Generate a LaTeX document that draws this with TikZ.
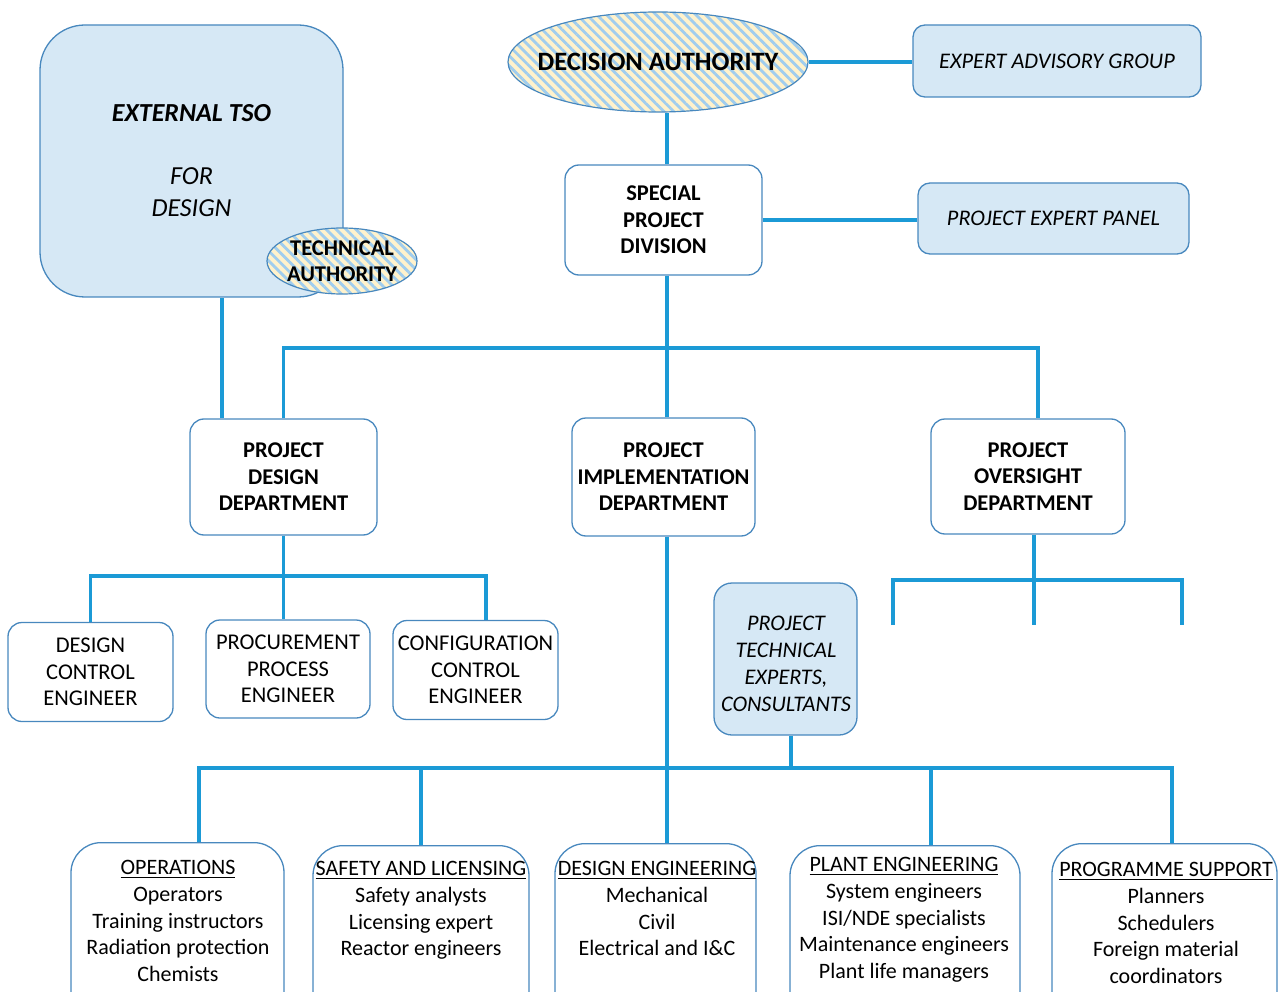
\documentclass[tikz,border=0pt]{standalone}
\usepackage{fontspec}
\setmainfont{Carlito}
\usetikzlibrary{patterns.meta,shapes.geometric}
\definecolor{linec}{RGB}{27,154,214}
\definecolor{bordc}{RGB}{72,136,190}
\definecolor{fillc}{RGB}{214,232,245}
\definecolor{hatchy}{RGB}{255,242,204}
\definecolor{hatchb}{RGB}{160,205,238}
\newcommand\hdline[1]{\leavevmode\setbox0\hbox{#1}\rlap{\rule[-4pt]{\wd0}{1.4pt}}\box0}
\tikzset{
  conn/.style={draw=linec, line width=3.8pt},
  box/.style={draw=bordc, line width=1.3pt, fill=white, rounded corners=14pt, inner sep=0pt, align=center},
  bluebox/.style={box, fill=fillc},
  hatch/.style={ellipse, draw=bordc, line width=1.2pt, preaction={fill=hatchy},
     pattern={Lines[angle=-45,distance=7pt,line width=2.8pt]}, pattern color=hatchb,
     inner sep=0pt},
  bigb/.style={font=\fontsize{22.5}{26.5}\selectfont\bfseries},
  midr/.style={font=\fontsize{22.5}{26.5}\selectfont},
  itl/.style={font=\fontsize{22.3}{27}\selectfont\itshape},
  bottxt/.style={font=\fontsize{22}{26.8}\selectfont, align=center, anchor=north, inner sep=0pt},
  bot/.style={box, rounded corners=30pt, minimum height=180pt},
}
\begin{document}
\begin{tikzpicture}[x=1pt,y=-1pt]
\useasboundingbox (0,0) rectangle (1282,992);
\clip (0,0) rectangle (1282,992);
% top row
\node[bluebox, rounded corners=45pt, minimum width=303pt, minimum height=272pt,
      font=\fontsize{26}{32}\selectfont\itshape] (tso) at (191.5,161)
      {\bfseries EXTERNAL TSO\\[31pt] FOR\\DESIGN};
\node[hatch, minimum width=150pt, minimum height=66pt,
      label={[bigb, align=center, inner sep=0pt]center:TECHNICAL\\AUTHORITY}] (ta) at (342,261) {};
\node[hatch, minimum width=300pt, minimum height=100pt,
      label={[font=\fontsize{26.5}{30}\selectfont\bfseries, inner sep=0pt]center:DECISION AUTHORITY}] (da) at (658,62) {};
\node[bluebox, rounded corners=12pt, minimum width=288pt, minimum height=72pt, itl] (eag) at (1057,61) {EXPERT ADVISORY GROUP};
\node[box, minimum width=197pt, minimum height=110pt, bigb] (spd) at (663.5,220) {SPECIAL\\PROJECT\\DIVISION};
\node[bluebox, rounded corners=12pt, minimum width=271pt, minimum height=71pt, itl] (pep) at (1053.5,218.5) {PROJECT EXPERT PANEL};
% departments
\node[box, minimum width=187pt, minimum height=116pt, bigb] (pdd) at (283.5,477) {PROJECT\\DESIGN\\DEPARTMENT};
\node[box, minimum width=183pt, minimum height=118pt, bigb] (pid) at (663.5,477) {PROJECT\\IMPLEMENTATION\\DEPARTMENT};
\node[box, minimum width=194pt, minimum height=115pt, bigb] (pod) at (1028,476.5) {PROJECT\\OVERSIGHT\\DEPARTMENT};
% design sub
\node[box, minimum width=165pt, minimum height=99pt, midr] (dce) at (90.5,672) {DESIGN\\CONTROL\\ENGINEER};
\node[box, minimum width=164pt, minimum height=98pt, midr] (ppe) at (288,669) {PROCUREMENT\\PROCESS\\ENGINEER};
\node[box, minimum width=165pt, minimum height=99pt, midr] (cce) at (475.5,670) {CONFIGURATION\\CONTROL\\ENGINEER};
\node[bluebox, rounded corners=18pt, minimum width=143pt, minimum height=152pt, itl] (pte) at (785.5,659) {};
\node[itl, align=center, inner sep=0pt] (pteT) at (786,664) {PROJECT\\TECHNICAL\\EXPERTS,\\CONSULTANTS};
% bottom boxes
\node[bot, minimum width=213pt, anchor=north] (ops) at (177.5,842) {};
\node[bot, minimum width=216pt, anchor=north] (sal) at (421,845) {};
\node[bot, minimum width=201pt, anchor=north] (de) at (655.5,843) {};
\node[bot, minimum width=230pt, anchor=north] (pe) at (905,845) {};
\node[bot, minimum width=225pt, anchor=north] (ps) at (1164.5,843) {};
\node[bottxt] (opsT) at (178,860) {\hdline{OPERATIONS}\\Operators\\Training instructors\\Radiation protection\\Chemists};
\node[bottxt] (salT) at (421,861) {\hdline{SAFETY AND LICENSING}\\Safety analysts\\Licensing expert\\Reactor engineers};
\node[bottxt] (deT) at (657,861) {\hdline{DESIGN ENGINEERING}\\Mechanical\\Civil\\Electrical and I\&C};
\node[bottxt] (peT) at (904,857) {\hdline{PLANT ENGINEERING}\\System engineers\\ISI/NDE specialists\\Maintenance engineers\\Plant life managers};
\node[bottxt] (psT) at (1166,862) {\hdline{PROGRAMME SUPPORT}\\Planners\\Schedulers\\Foreign material\\coordinators};
% bus coordinates
\coordinate (bus1) at (667,348);
\coordinate (bus2) at (283.5,576);
\coordinate (bus3) at (1034,580);
\coordinate (bus4) at (667,768);
\coordinate (s1) at (893,625);
\coordinate (s2) at (1034,625);
\coordinate (s3) at (1182,625);
% connectors
\draw[conn] (da.east) -- (da.east -| eag.west);
\draw[conn] ([xshift=3.5pt]spd.north) -- ([xshift=3.5pt]spd.north |- da.south);
\draw[conn] (spd.east) -- (spd.east -| pep.west);
\draw[conn] ([xshift=3.5pt]spd.south) -- (bus1);
\draw[conn] (pdd.north) |- (bus1) -| ([xshift=10pt]pod.north);
\draw[conn] ([xshift=3.5pt]pid.north) -- (bus1);
\draw[conn] ([xshift=-61.5pt]pdd.north) -- ([xshift=-61.5pt]pdd.north |- tso.south);
\draw[conn] (pdd.south) -- (bus2);
\draw[conn] (dce.north) |- (bus2) -| ([xshift=10.5pt]cce.north);
\draw[conn] (bus2) -- (bus2 |- ppe.north);
\draw[conn] ([xshift=6pt]pod.south) -- (bus3);
\draw[conn] (s1) |- (bus3) -| (s3);
\draw[conn] (bus3) -- (s2);
\draw[conn] ([xshift=3.5pt]pid.south) -- ([xshift=3.5pt]pid.south |- de.north);
\draw[conn] ([xshift=5.5pt]pte.south) -- ([xshift=5.5pt]pte.south |- bus4);
\draw[conn] ([xshift=21.5pt]ops.north) |- (bus4) -| ([xshift=7.5pt]ps.north);
\draw[conn] (sal.north) -- (sal.north |- bus4);
\draw[conn] ([xshift=26pt]pe.north) -- ([xshift=26pt]pe.north |- bus4);
\end{tikzpicture}
\end{document}
